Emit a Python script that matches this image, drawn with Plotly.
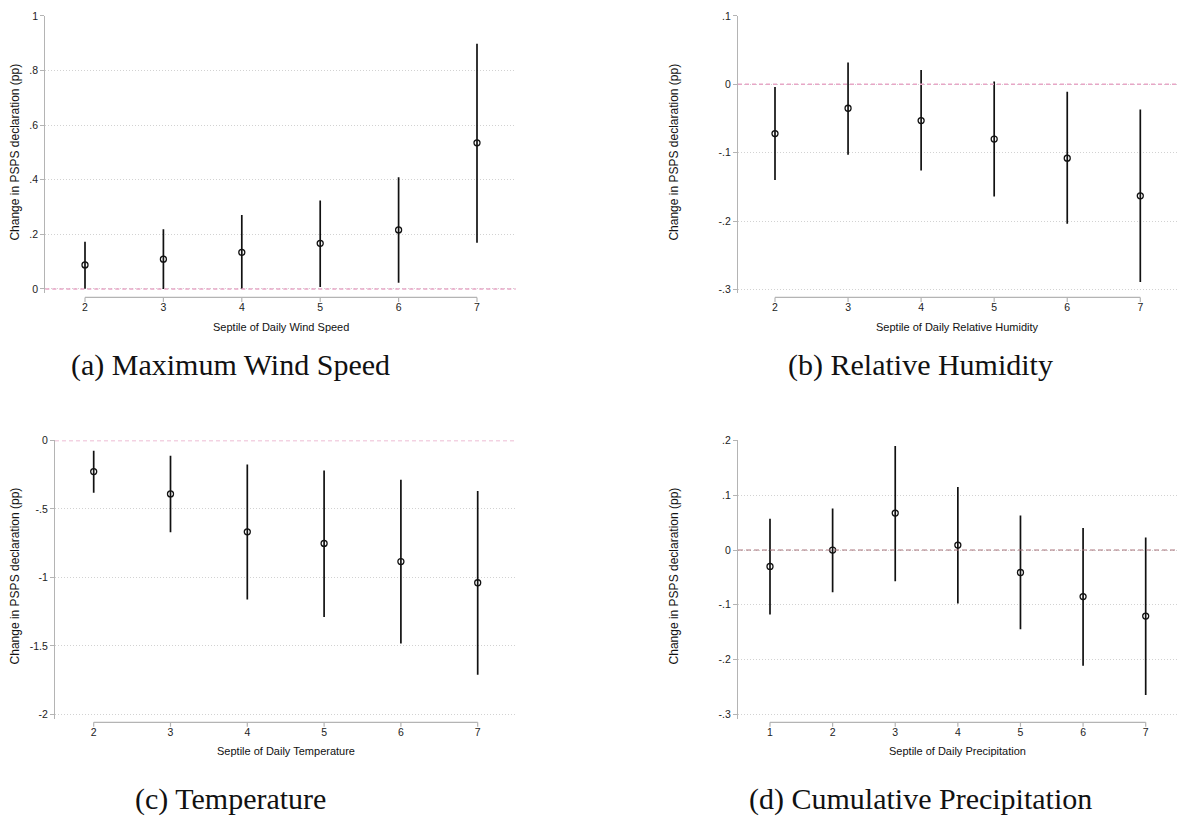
import plotly.graph_objects as go

W, H = 1178, 827

# ---------------- data ----------------
# (a) Maximum wind speed
a_x = [2, 3, 4, 5, 6, 7]
a_est = [0.088, 0.109, 0.134, 0.167, 0.216, 0.535]
a_lo = [0.001, 0.000, 0.000, 0.007, 0.023, 0.169]
a_hi = [0.173, 0.219, 0.271, 0.324, 0.409, 0.898]
a_yticks = [0, 0.2, 0.4, 0.6, 0.8, 1]
a_yticktext = ["0", ".2", ".4", ".6", ".8", "1"]

# (b) Relative humidity
b_x = [2, 3, 4, 5, 6, 7]
b_est = [-0.072, -0.035, -0.053, -0.080, -0.108, -0.163]
b_lo = [-0.140, -0.103, -0.126, -0.164, -0.204, -0.289]
b_hi = [-0.004, 0.032, 0.021, 0.004, -0.011, -0.037]
b_yticks = [-0.3, -0.2, -0.1, 0, 0.1]
b_yticktext = ["-.3", "-.2", "-.1", "0", ".1"]

# (c) Temperature
c_x = [2, 3, 4, 5, 6, 7]
c_est = [-0.227, -0.390, -0.667, -0.752, -0.884, -1.039]
c_lo = [-0.381, -0.670, -1.161, -1.289, -1.482, -1.711]
c_hi = [-0.075, -0.111, -0.176, -0.219, -0.287, -0.369]
c_yticks = [-2, -1.5, -1, -0.5, 0]
c_yticktext = ["-2", "-1.5", "-1", "-.5", "0"]

# (d) Cumulative precipitation
d_x = [1, 2, 3, 4, 5, 6, 7]
d_est = [-0.030, 0.000, 0.0675, 0.009, -0.041, -0.085, -0.1205]
d_lo = [-0.1175, -0.077, -0.057, -0.0976, -0.1446, -0.211, -0.2645]
d_hi = [0.057, 0.076, 0.190, 0.115, 0.063, 0.040, 0.023]
d_yticks = [-0.3, -0.2, -0.1, 0, 0.1, 0.2]
d_yticktext = ["-.3", "-.2", "-.1", "0", ".1", ".2"]

x_titles = ["Septile of Daily Wind Speed", "Septile of Daily Relative Humidity",
            "Septile of Daily Temperature", "Septile of Daily Precipitation"]
y_title = "Change in PSPS declaration (pp)"
captions = ["(a) Maximum Wind Speed", "(b) Relative Humidity",
            "(c) Temperature", "(d) Cumulative Precipitation"]

# ---------------- layout geometry (pixels) ----------------
panels = [
    dict(x=a_x, est=a_est, lo=a_lo, hi=a_hi, yt=a_yticks, ytt=a_yticktext,
         xdom=(45.3, 515.7), ydom=(10, 290), ymap=((1.0, 10), (0.0, 285.7)),
         xmap=(85, 477), xline=294.3, ytitle=(15, 148), xtitle_y=324,
         cap=(230, 363), zcol="#e7a6c6", zdash="4px,3px", zw=1.4),
    dict(x=b_x, est=b_est, lo=b_lo, hi=b_hi, yt=b_yticks, ytt=b_yticktext,
         xdom=(738, 1176.5), ydom=(10, 290), ymap=((0.1, 10), (-0.3, 286.3)),
         xmap=(775, 1140.3), xline=294.3, ytitle=(674, 148), xtitle_y=324,
         cap=(920, 363), zcol="#e7a6c6", zdash="4px,3px", zw=1.4),
    dict(x=c_x, est=c_est, lo=c_lo, hi=c_hi, yt=c_yticks, ytt=c_yticktext,
         xdom=(55, 516), ydom=(438.7, 719.5), ymap=((0.0, 438.7), (-2.0, 715.3)),
         xmap=(93.7, 477.7), xline=723.3, ytitle=(15, 576), xtitle_y=752,
         cap=(230, 801), zcol="#e7a6c6", zdash="4px,3px", zw=1.4),
    dict(x=d_x, est=d_est, lo=d_lo, hi=d_hi, yt=d_yticks, ytt=d_yticktext,
         xdom=(738, 1176.5), ydom=(438.7, 719.5), ymap=((0.2, 438.7), (-0.3, 715.3)),
         xmap=(770, 1145.7), xline=723.3, ytitle=(674, 576), xtitle_y=752,
         cap=(920, 801), zcol="#a8737a", zdash="5px,3px", zw=1),
]


def fx(p):
    return p / W


def fy(p):
    return 1 - p / H


fig = go.Figure()
shapes = []
annotations = []
AX_COL = "#b4b4b4"
FONT = "Liberation Sans, Arial, sans-serif"

for i, P in enumerate(panels):
    n = "" if i == 0 else str(i + 1)
    xa, ya = "x" + n, "y" + n
    xs = P["x"]
    # x range from pixel mapping
    s = (P["xmap"][1] - P["xmap"][0]) / (xs[-1] - xs[0])
    xr = [xs[0] - (P["xmap"][0] - P["xdom"][0]) / s,
          xs[-1] + (P["xdom"][1] - P["xmap"][1]) / s]
    (v1, p1), (v0, p0) = P["ymap"]
    k = (v1 - v0) / (p0 - p1)
    yr = [v0 - (P["ydom"][1] - p0) * k, v0 + (p0 - P["ydom"][0]) * k]

    fig.add_trace(go.Scatter(
        x=xs, y=P["est"], mode="markers", xaxis=xa, yaxis=ya,
        marker=dict(symbol="circle-open", size=6, color="#111",
                    line=dict(width=1.3, color="#111")),
        error_y=dict(type="data", symmetric=False,
                     array=[h - e for h, e in zip(P["hi"], P["est"])],
                     arrayminus=[e - l for e, l in zip(P["est"], P["lo"])],
                     width=0, thickness=1.7, color="#111"),
        showlegend=False, cliponaxis=False))

    fig.layout["xaxis" + n] = dict(
        domain=[fx(P["xdom"][0]), fx(P["xdom"][1])], range=xr, anchor=ya,
        showgrid=False, zeroline=False, showline=False,
        tickvals=xs, ticktext=[str(v) for v in xs],
        ticks="outside", ticklen=4, tickcolor="rgba(0,0,0,0)",
        tickfont=dict(family=FONT, size=10.5, color="#222"), fixedrange=True)
    fig.layout["yaxis" + n] = dict(
        domain=[fy(P["ydom"][1]), fy(P["ydom"][0])], range=yr, anchor=xa,
        showgrid=True, gridcolor="#d2d2d2", griddash="1px,2px", gridwidth=1,
        zeroline=False, showline=True, linecolor=AX_COL, linewidth=1.2,
        tickvals=P["yt"], ticktext=P["ytt"], ticks="outside", ticklen=4,
        tickcolor=AX_COL, tickwidth=1.2,
        tickfont=dict(family=FONT, size=10.5, color="#222"), fixedrange=True)

    # zero reference line
    shapes.append(dict(type="line", xref=xa + " domain", yref=ya,
                       x0=0, x1=1, y0=0, y1=0, layer="above",
                       line=dict(color=P["zcol"], width=P["zw"], dash=P["zdash"])))
    # offset x axis line and ticks (Stata style)
    shapes.append(dict(type="line", xref=xa, yref="paper",
                       x0=xs[0], x1=xs[-1], y0=fy(P["xline"]), y1=fy(P["xline"]),
                       line=dict(color=AX_COL, width=1.2)))
    for v in xs:
        shapes.append(dict(type="line", xref=xa, yref="paper",
                           x0=v, x1=v, y0=fy(P["xline"]), y1=fy(P["xline"] + 4.5),
                           line=dict(color=AX_COL, width=1.2)))

    annotations.append(dict(text=x_titles[i], xref=xa, yref="paper",
                            x=(xs[0] + xs[-1]) / 2, y=fy(P["xtitle_y"]),
                            showarrow=False, xanchor="center", yanchor="middle",
                            font=dict(family=FONT, size=11, color="#111")))
    annotations.append(dict(text=y_title, xref="paper", yref="paper",
                            x=fx(P["ytitle"][0]), y=fy(P["ytitle"][1]), textangle=-90,
                            showarrow=False, xanchor="center", yanchor="middle",
                            font=dict(family=FONT, size=12, color="#111")))
    annotations.append(dict(text=captions[i], xref="paper", yref="paper",
                            x=fx(P["cap"][0]), y=fy(P["cap"][1]),
                            showarrow=False, xanchor="center", yanchor="middle",
                            font=dict(family="Liberation Serif, DejaVu Serif, serif",
                                      size=30, color="#111")))

fig.update_layout(width=W, height=H, margin=dict(l=0, r=0, t=0, b=0),
                  paper_bgcolor="white", plot_bgcolor="white",
                  shapes=shapes, annotations=annotations, showlegend=False)

fig.write_html("out.html", include_plotlyjs=True, full_html=True,
               config={"displayModeBar": False})
